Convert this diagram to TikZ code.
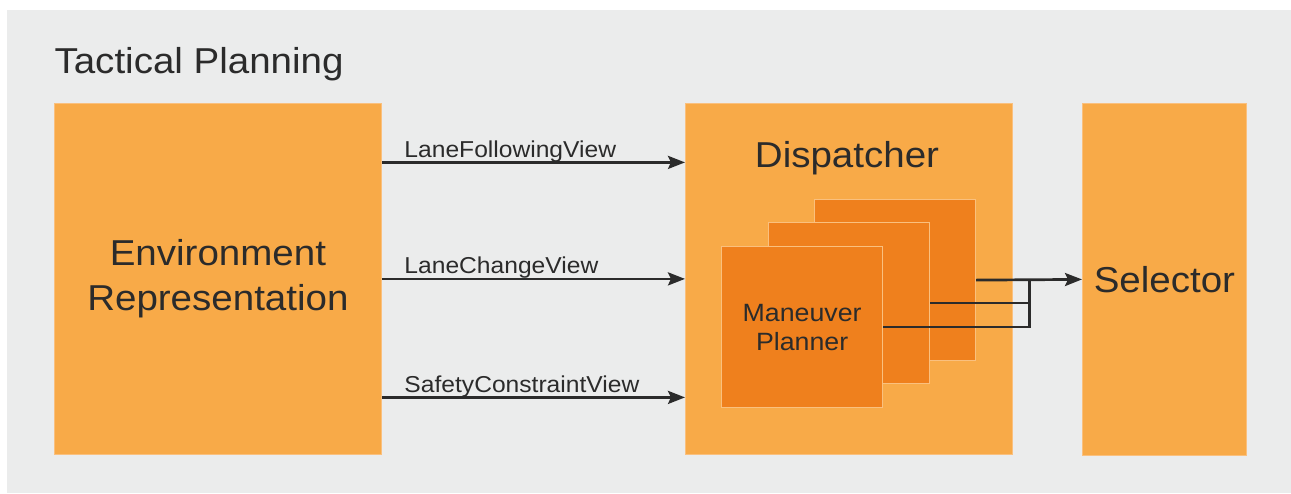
\documentclass[tikz,border=0pt]{standalone}
\usepackage{fontspec}
\setmainfont{Liberation Sans}[FakeStretch=1.07]
\usetikzlibrary{arrows.meta}

\definecolor{panelgray}{HTML}{EBECEC}
\definecolor{lightorange}{HTML}{F8AA48}
\definecolor{darkorange}{HTML}{EF801D}
\definecolor{edgeorange}{HTML}{FAC07E}
\definecolor{inkgray}{HTML}{2B2B2B}

\tikzset{
  block/.style={rectangle, fill=lightorange, draw=edgeorange, line width=0.8pt,
    anchor=north west, inner sep=0pt, text=inkgray},
  planner/.style={rectangle, fill=darkorange, draw=edgeorange, line width=1.2pt,
    anchor=north west, inner sep=0pt, minimum width=161pt, minimum height=161pt,
    text=inkgray, align=center, font=\fontsize{25}{29}\selectfont},
  wire/.style={draw=inkgray, line width=2.7pt},
  flow/.style={wire, -{Stealth[length=17pt,width=13pt,inset=3pt]}},
  viewlabel/.style={anchor=base west, text=inkgray, font=\fontsize{23}{27}\selectfont}
}

\begin{document}
\begin{tikzpicture}[x=1pt,y=-1pt]
\useasboundingbox (0,0) rectangle (1291,493);
\fill[white] (0,0) rectangle (1291,493);
\fill[panelgray] (7,10) rectangle (1291,493);

\node[anchor=base west, text=inkgray, font=\fontsize{36}{43}\selectfont] (title) at (51,73) {Tactical Planning};

% main blocks
\node[block, minimum width=327pt, minimum height=351pt, align=center,
  font=\fontsize{36}{45}\selectfont] (env) at (54,103) {Environment\\Representation};
\node[block, minimum width=327pt, minimum height=351pt] (disp) at (685,103) {};
\node[anchor=base, text=inkgray, font=\fontsize{36}{43}\selectfont] (disptitle) at (847,167) {Dispatcher};
\node[block, minimum width=164pt, minimum height=352pt,
  font=\fontsize{36}{43}\selectfont] (sel) at (1082,103) {Selector};

% stacked maneuver planners
\node[planner] (mp3) at (814,199) {};
\node[planner] (mp2) at (768,222) {};
\node[planner] (mp1) at (721,246) {Maneuver\\Planner};

% views
\draw[flow] ([yshift=116.5pt]env.east) -- ([yshift=116.5pt]disp.west)
  node[viewlabel, pos=0, xshift=18pt, yshift=5pt] (lf) {LaneFollowingView};
\draw[flow] (env.east) -- (disp.west)
  node[viewlabel, pos=0, xshift=18pt, yshift=5pt] (lc) {LaneChangeView};
\draw[flow] ([yshift=-118.5pt]env.east) -- ([yshift=-118.5pt]disp.west)
  node[viewlabel, pos=0, xshift=18pt, yshift=5pt] (sc) {SafetyConstraintView};

% outputs to selector
\coordinate (bus) at ([xshift=53pt]mp3.east);
\draw[flow] (mp3.east) -- (sel.west);
\draw[wire] (mp2.east) -| (bus);
\draw[wire] (mp1.east) -| (bus);
\end{tikzpicture}
\end{document}
